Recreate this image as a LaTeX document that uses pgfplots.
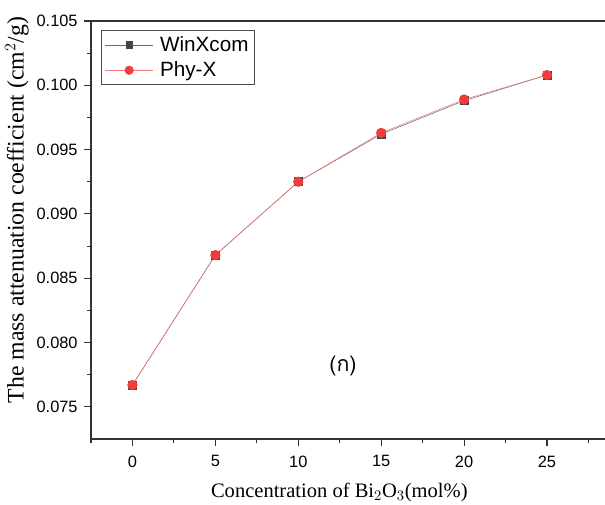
\documentclass[border=0pt]{standalone}
\usepackage{pgfplots}
\pgfplotsset{compat=1.18}
\usepackage{fontspec}
\setmainfont{Liberation Serif}
\newfontfamily\arial{Liberation Sans}
\newfontfamily\thaifont[Script=Thai]{Loma}
\definecolor{wred}{RGB}{240,60,60}
\definecolor{wgray}{RGB}{70,70,70}
\begin{document}
\begin{tikzpicture}[x=1pt,y=1pt]
\begin{axis}[
  at={(0,0)}, anchor=south west,
  scale only axis,
  width=385.5pt, height=313.5pt,
  xmin=-2.5, xmax=28.5,
  ymin=0.0725, ymax=0.105,
  axis x line*=bottom, axis y line*=left,
  axis line style={line width=0.9pt, color=black!80, -},
  xtick={0,5,10,15,20,25},
  minor xtick={-2.5,2.5,7.5,12.5,17.5,22.5,27.5},
  ytick={0.075,0.080,0.085,0.090,0.095,0.100,0.105},
  minor ytick={0.0775,0.0825,0.0875,0.0925,0.0975,0.1025},
  tick align=outside,
  major tick length=5pt, minor tick length=3pt,
  tick style={line width=0.8pt, color=black!80},
  /pgf/number format/assume math mode=true,
  yticklabel style={/pgf/number format/fixed, /pgf/number format/fixed zerofill, /pgf/number format/precision=3, font=\arial\fontsize{12.3}{14}\selectfont, xshift=-1.5pt},
  xticklabel style={font=\arial\fontsize{12.3}{14}\selectfont, yshift=-4pt},
  scaled y ticks=false,
  xlabel={Concentration of Bi$_2$O$_3$(mol\%)},
  ylabel={The mass attenuation coefficient (cm$^2$/g)},
  xlabel style={font=\fontsize{15.4}{17}\selectfont, yshift=-5pt, xshift=-6.5pt},
  ylabel style={font=\fontsize{17.8}{20}\selectfont, yshift=-1pt, xshift=15pt},
  clip=false,
  legend style={at={(axis description cs:0,1)}, anchor=north west, xshift=7.5pt, yshift=-6.75pt, font=\arial\fontsize{15.5}{17}\selectfont, draw=black!70, line width=0.6pt, inner sep=2.6pt, row sep=2.2pt, nodes={inner sep=2pt}},
  legend cell align=left,
  legend image code/.code={\draw[mark repeat=2,mark phase=2] plot coordinates {(0pt,0pt) (18pt,0pt) (36pt,0pt)};},
]
\addplot[color=wgray!80, line width=0.4pt, mark=square*, mark size=3pt, mark options={fill=wgray, draw=wgray}, legend image post style={mark size=2.5pt}] coordinates {
(0,0.0767) (5,0.0868) (10,0.0925) (15,0.0962) (20,0.0988) (25,0.1008)};
\addlegendentry{\hspace{3pt}WinXcom}
\addplot[color=wred!70, line width=0.4pt, mark=*, mark size=3.6pt, mark options={fill=wred, draw=wred}, legend image post style={mark size=3.2pt}] coordinates {
(0,0.0767) (5,0.0868) (10,0.0925) (15,0.0963) (20,0.0989) (25,0.1008)};
\addlegendentry{\hspace{3pt}Phy-X}
\draw[line width=0.9pt, color=black!80] (rel axis cs:0,1) -- (rel axis cs:1,1);
\node[font=\thaifont\fontsize{16}{18}\selectfont] at (axis cs:12.7,0.0782) {(ก)};
\end{axis}
\pgfresetboundingbox
\path[use as bounding box] (-68.25,-49.5) rectangle (385.5,329.25);
\end{tikzpicture}
\end{document}
